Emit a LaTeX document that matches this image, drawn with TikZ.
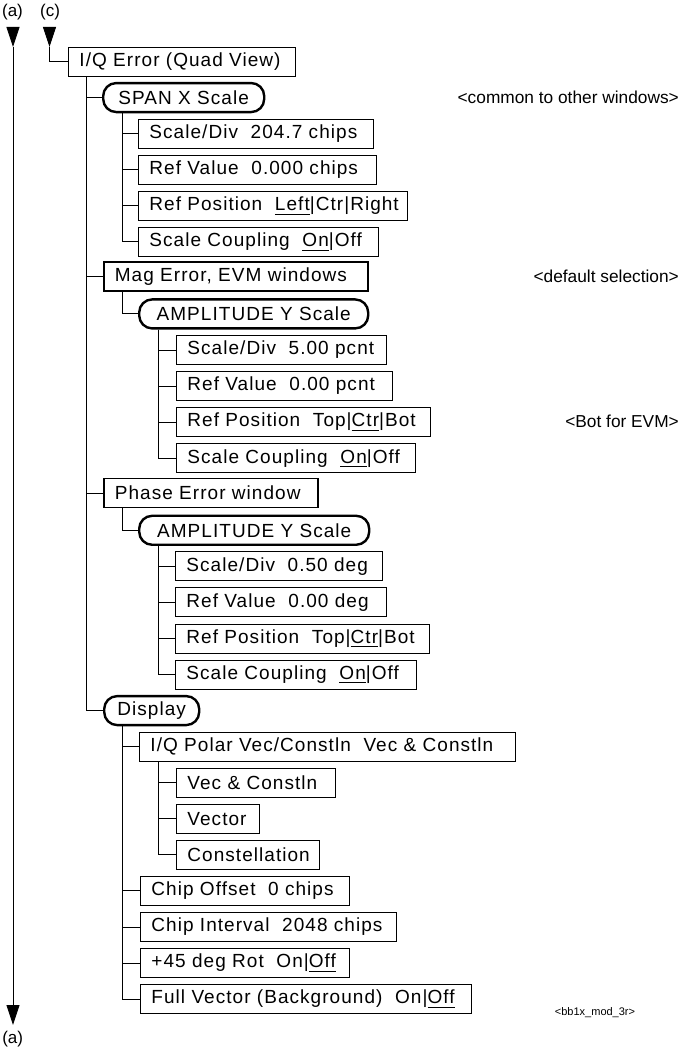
\documentclass[tikz,border=0pt]{standalone}
\usepackage{fontspec}
\setmainfont{Liberation Sans}[LetterSpace=5.5]
\newfontfamily\notefont{Liberation Sans}
\usetikzlibrary{arrows.meta}
\newcommand\ul[1]{\setbox0\hbox{#1}\rlap{\rule[-4pt]{\wd0}{0.9pt}}\box0}
\newcommand\bx[2]{\makebox[\dimexpr#1pt-22pt\relax][l]{#2}}
\newcommand\cx[2]{\makebox[\dimexpr#1pt-22pt\relax][c]{#2}}
\begin{document}
\begin{tikzpicture}[x=1pt,y=-1pt,
  every node/.style={font=\fontsize{19}{22}\selectfont},
  box/.style={draw, line width=0.9pt, anchor=west, inner xsep=11pt, inner ysep=0pt, minimum height=29pt},
  boldbox/.style={box, line width=1.7pt},
  pill/.style={box, line width=2.4pt, rounded corners=13pt},
  conn/.style={line width=0.9pt},
  note/.style={font=\notefont\fontsize{17.3}{20}\selectfont, anchor=east, inner sep=0pt},
  lab/.style={font=\notefont\fontsize{17}{20}\selectfont, inner sep=0pt},
  head/.style={-{Triangle[length=20pt,width=13pt]}, line width=0.9pt}
]
\useasboundingbox (0,0) rectangle (681,1048);

\node[box] (iq) at (68,61.5) {\bx{227}{I/Q Error (Quad View)}};
\node[pill] (span) at (102,97.56) {\cx{161}{SPAN X Scale}};
\node[box] (sd1) at (138,133.62) {\bx{235}{Scale/Div\ \ 204.7 chips}};
\node[box] (rv1) at (138,169.68) {\bx{238}{Ref Value\ \ 0.000 chips}};
\node[box] (rp1) at (138,205.74) {\bx{269}{Ref Position\ \ \ul{Left}|Ctr|Right}};
\node[box] (sc1) at (138,241.8) {\bx{240}{Scale Coupling\ \ \ul{On}|Off}};
\node[boldbox] (mag) at (103,276.5) {\bx{264}{Mag Error, EVM windows}};
\node[pill] (amp1) at (138,313.92) {\cx{229}{AMPLITUDE Y Scale}};
\node[box] (sd2) at (176,349.98) {\bx{210}{Scale/Div\ \ 5.00 pcnt}};
\node[box] (rv2) at (176,386.04) {\bx{216}{Ref Value\ \ 0.00 pcnt}};
\node[box] (rp2) at (176,422.1) {\bx{254}{Ref Position\ \ Top|\ul{Ctr}|Bot}};
\node[box] (sc2) at (176,458.16) {\bx{239}{Scale Coupling\ \ \ul{On}|Off}};
\node[boldbox] (phase) at (103,493) {\bx{214}{Phase Error window}};
\node[pill] (amp2) at (138,530.28) {\cx{230}{AMPLITUDE Y Scale}};
\node[box] (sd3) at (175,566.34) {\bx{207}{Scale/Div\ \ 0.50 deg}};
\node[box] (rv3) at (175,602.4) {\bx{211}{Ref Value\ \ 0.00 deg}};
\node[box] (rp3) at (175,638.46) {\bx{254}{Ref Position\ \ Top|\ul{Ctr}|Bot}};
\node[box] (sc3) at (175,674.52) {\bx{241}{Scale Coupling\ \ \ul{On}|Off}};
\node[pill] (disp) at (103,710.58) {\cx{95}{Display}};
\node[box] (pol) at (139,746.64) {\bx{376}{I/Q Polar Vec/Constln\ \ Vec \& Constln}};
\node[box] (vc) at (176,782.7) {\bx{159}{Vec \& Constln}};
\node[box] (vec) at (176,818.76) {\bx{83}{Vector}};
\node[box] (con) at (176,854.82) {\bx{143}{Constellation}};
\node[box] (co) at (140,890.88) {\bx{209}{Chip Offset\ \ 0 chips}};
\node[box] (ci) at (140,926.94) {\bx{256}{Chip Interval\ \ 2048 chips}};
\node[box] (rot) at (140,963) {\bx{209}{+45 deg Rot\ \ On|\ul{Off}}};
\node[box] (fv) at (140,999.06) {\bx{331}{Full Vector (Background)\ \ On|\ul{Off}}};

\foreach \c in {span,mag,phase,disp} \draw[conn] ([xshift=18pt]iq.south west) |- (\c.west);
\foreach \c in {sd1,rv1,rp1,sc1} \draw[conn] ([xshift=20pt]span.south west) |- (\c.west);
\draw[conn] ([xshift=19pt]mag.south west) |- (amp1.west);
\foreach \c in {sd2,rv2,rp2,sc2} \draw[conn] ([xshift=20pt]amp1.south west) |- (\c.west);
\draw[conn] ([xshift=19pt]phase.south west) |- (amp2.west);
\foreach \c in {sd3,rv3,rp3,sc3} \draw[conn] ([xshift=20pt]amp2.south west) |- (\c.west);
\foreach \c in {pol,co,ci,rot,fv} \draw[conn] ([xshift=19pt]disp.south west) |- (\c.west);
\foreach \c in {vc,vec,con} \draw[conn] ([xshift=19pt]pol.south west) |- (\c.west);

\node[lab] (la) at (12.5,12) {(a)};
\node[lab] (lc) at (50,12) {(c)};
\node[lab] (lb) at (12.7,1039) {(a)};
\coordinate (a1) at (13,27);
\coordinate (a2) at (13,47);
\coordinate (a4) at (13,1025);
\coordinate (c1) at (49.5,27);
\coordinate (c2) at (49.5,47);
\draw[head] (a1) -- (a2);
\draw[head] (a2) -- (a4);
\draw[head] (c1) -- (c2);
\draw[conn] (c2) |- (iq.west);

\node[note] (n1) at (679,97.5) {<common to other windows>};
\node[note] (n2) at (679,276) {<default selection>};
\node[note] (n3) at (679,421) {<Bot for EVM>};
\node[note, font=\notefont\fontsize{11}{13}\selectfont, anchor=center] (n4) at (595,1013) {<bb1x\_mod\_3r>};
\end{tikzpicture}
\end{document}
